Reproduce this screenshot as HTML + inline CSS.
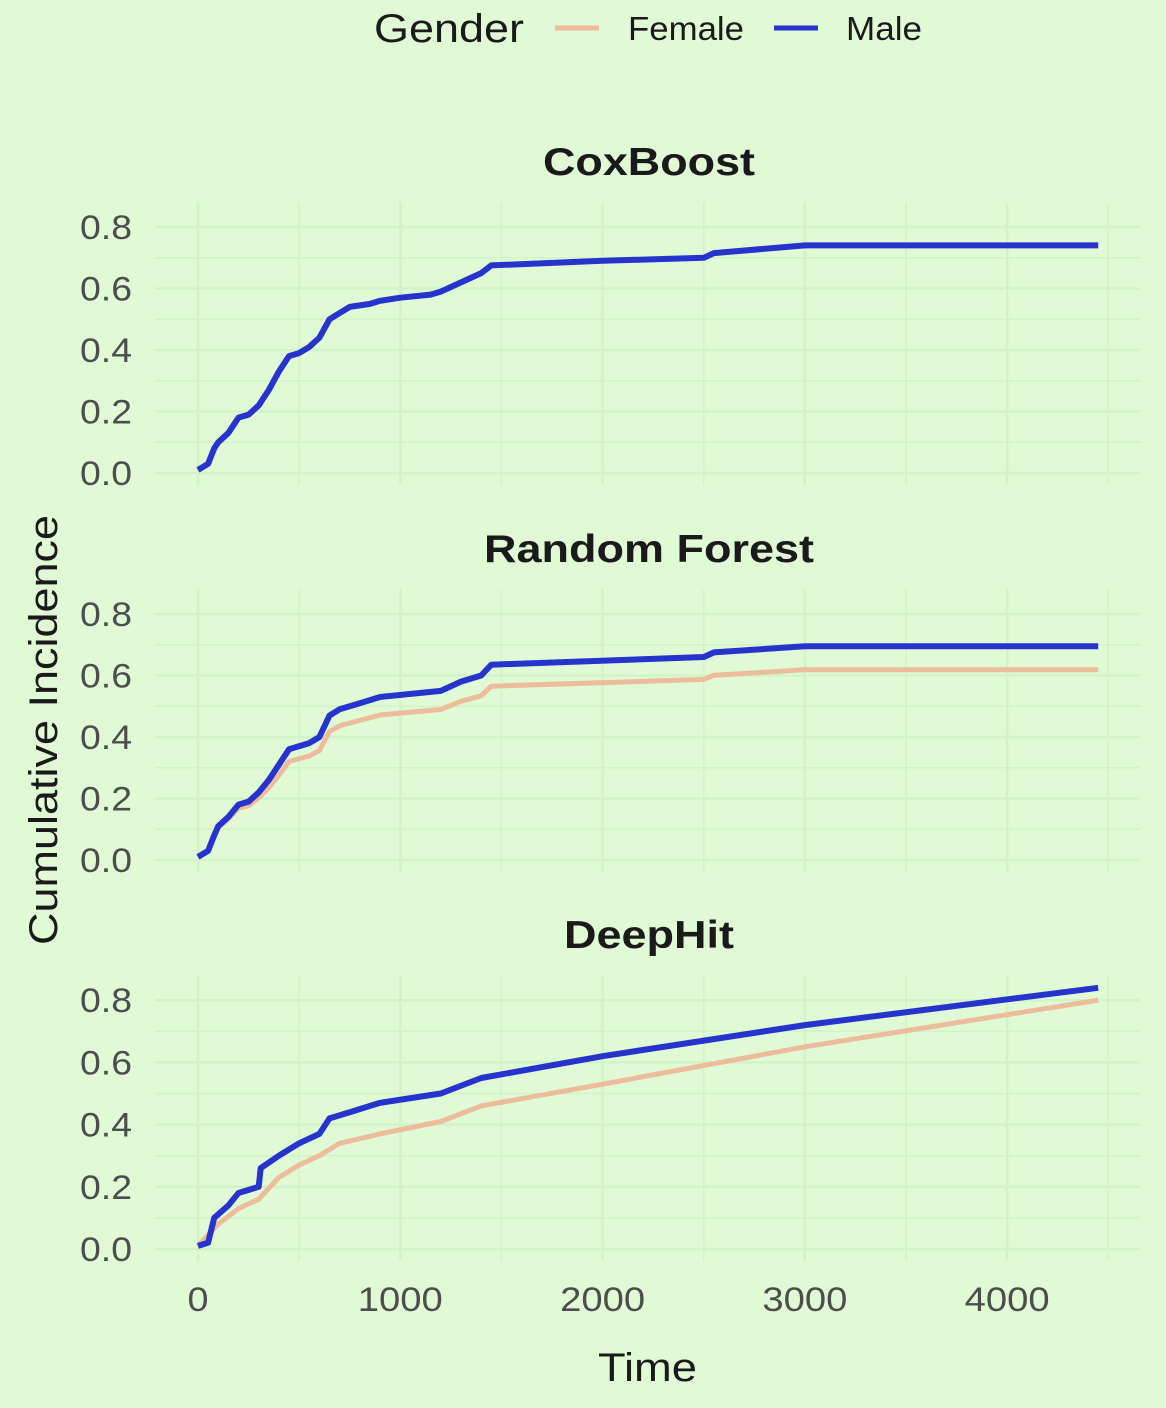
<!DOCTYPE html><html><head><style>body{margin:0;background:#e0fad6}</style></head><body>
<svg id="s" width="1166" height="1403" xmlns="http://www.w3.org/2000/svg" font-family="Liberation Sans, sans-serif">
<rect width="1166" height="1403" fill="#e0fad6"/>
<g id="g"></g>
<text x="374" y="42" font-size="40" fill="#1a1a1a" textLength="150" lengthAdjust="spacingAndGlyphs">Gender</text>
<line x1="555" y1="28" x2="599" y2="28" stroke="#ecbc9c" stroke-width="5"/>
<text x="628" y="40" font-size="33" fill="#1a1a1a" textLength="116" lengthAdjust="spacingAndGlyphs">Female</text>
<line x1="774" y1="28" x2="818" y2="28" stroke="#2633cc" stroke-width="5"/>
<text x="846" y="40" font-size="33" fill="#1a1a1a" textLength="76" lengthAdjust="spacingAndGlyphs">Male</text>
<text x="598" y="1381" font-size="40" fill="#1a1a1a" textLength="99" lengthAdjust="spacingAndGlyphs">Time</text>
<text transform="translate(57,730) rotate(-90)" font-size="40" text-anchor="middle" fill="#1a1a1a" textLength="430" lengthAdjust="spacingAndGlyphs">Cumulative Incidence</text>
</svg>
<script>
var g=document.getElementById('g'),h='';
function X(t){return 198+t*0.2023;}
var panels=[
{t:'CoxBoost',w:212,y0:473,k:307.5,
m:[[0,.01],[50,.03],[80,.08],[100,.1],[150,.13],[200,.18],[250,.19],[300,.22],[350,.27],[400,.33],[450,.38],[500,.39],[550,.41],[600,.44],[650,.5],[700,.52],[750,.54],[850,.55],[900,.56],[1000,.57],[1150,.58],[1200,.59],[1300,.62],[1400,.65],[1450,.675],[2000,.69],[2500,.70],[2550,.715],[3000,.74],[4450,.74]],f:1},
{t:'Random Forest',w:330,y0:860,k:307.5,
m:[[0,.01],[50,.03],[80,.08],[100,.11],[150,.14],[200,.18],[250,.19],[300,.22],[350,.26],[400,.31],[450,.36],[550,.38],[600,.4],[650,.47],[700,.49],[800,.51],[900,.53],[1200,.55],[1300,.58],[1400,.6],[1450,.635],[2500,.66],[2550,.675],[3000,.695],[4450,.695]],f:0.89},
{t:'DeepHit',w:170,y0:1249,k:311,
m:[[0,.01],[50,.02],[80,.1],[150,.14],[200,.18],[300,.2],[310,.26],[400,.3],[500,.34],[600,.37],[650,.42],[750,.44],[900,.47],[1200,.5],[1400,.55],[2000,.62],[3000,.72],[4450,.84]],
fe:[[0,.01],[100,.08],[200,.13],[300,.16],[400,.23],[500,.27],[600,.3],[700,.34],[900,.37],[1200,.41],[1400,.46],[2000,.53],[3000,.65],[4450,.8]]}
];
panels.forEach(function(p){
 var top=p.y0-0.88*p.k,bot=p.y0+12;
 for(var v=0;v<=0.85;v+=0.1){var y=p.y0-v*p.k;h+='<line x1="155" x2="1140" y1="'+y+'" y2="'+y+'" stroke="#d2f3c7" stroke-width="'+(Math.round(v*10)%2?1.5:2.5)+'"/>';}
 for(var t=0;t<=4500;t+=500){var x=X(t);h+='<line y1="'+top+'" y2="'+bot+'" x1="'+x+'" x2="'+x+'" stroke="#d2f3c7" stroke-width="'+(t%1000?1.5:2.5)+'"/>';}
 for(var i=0;i<=4;i++){var v=i*0.2;h+='<text x="80" y="'+(p.y0-v*p.k+12)+'" font-size="34" fill="#4d4d4d" textLength="52" lengthAdjust="spacingAndGlyphs">'+v.toFixed(1)+'</text>';}
 h+='<text x="'+(649-p.w/2)+'" y="'+(p.y0-0.8*p.k-52)+'" font-size="39" font-weight="bold" fill="#1a1a1a" textLength="'+p.w+'" lengthAdjust="spacingAndGlyphs">'+p.t+'</text>';
 var fe=p.fe||p.m.map(function(a){return [a[0],a[1]<=0.3?a[1]*(1-(1-p.f)*a[1]/0.3):a[1]*p.f];});
 function pts(a){return a.map(function(q){return X(q[0]).toFixed(1)+','+(p.y0-q[1]*p.k).toFixed(1)}).join(' ');}
 h+='<polyline points="'+pts(fe)+'" fill="none" stroke="#ecbc9c" stroke-width="5" stroke-linejoin="round"/>';
 h+='<polyline points="'+pts(p.m)+'" fill="none" stroke="#2633cc" stroke-width="6" stroke-linejoin="round"/>';
});
[0,1000,2000,3000,4000].forEach(function(t){var w=t?85:21;h+='<text x="'+(X(t)-w/2)+'" y="1311" font-size="34" fill="#4d4d4d" textLength="'+w+'" lengthAdjust="spacingAndGlyphs">'+t+'</text>';});
g.innerHTML=h;
</script>
</body></html>
